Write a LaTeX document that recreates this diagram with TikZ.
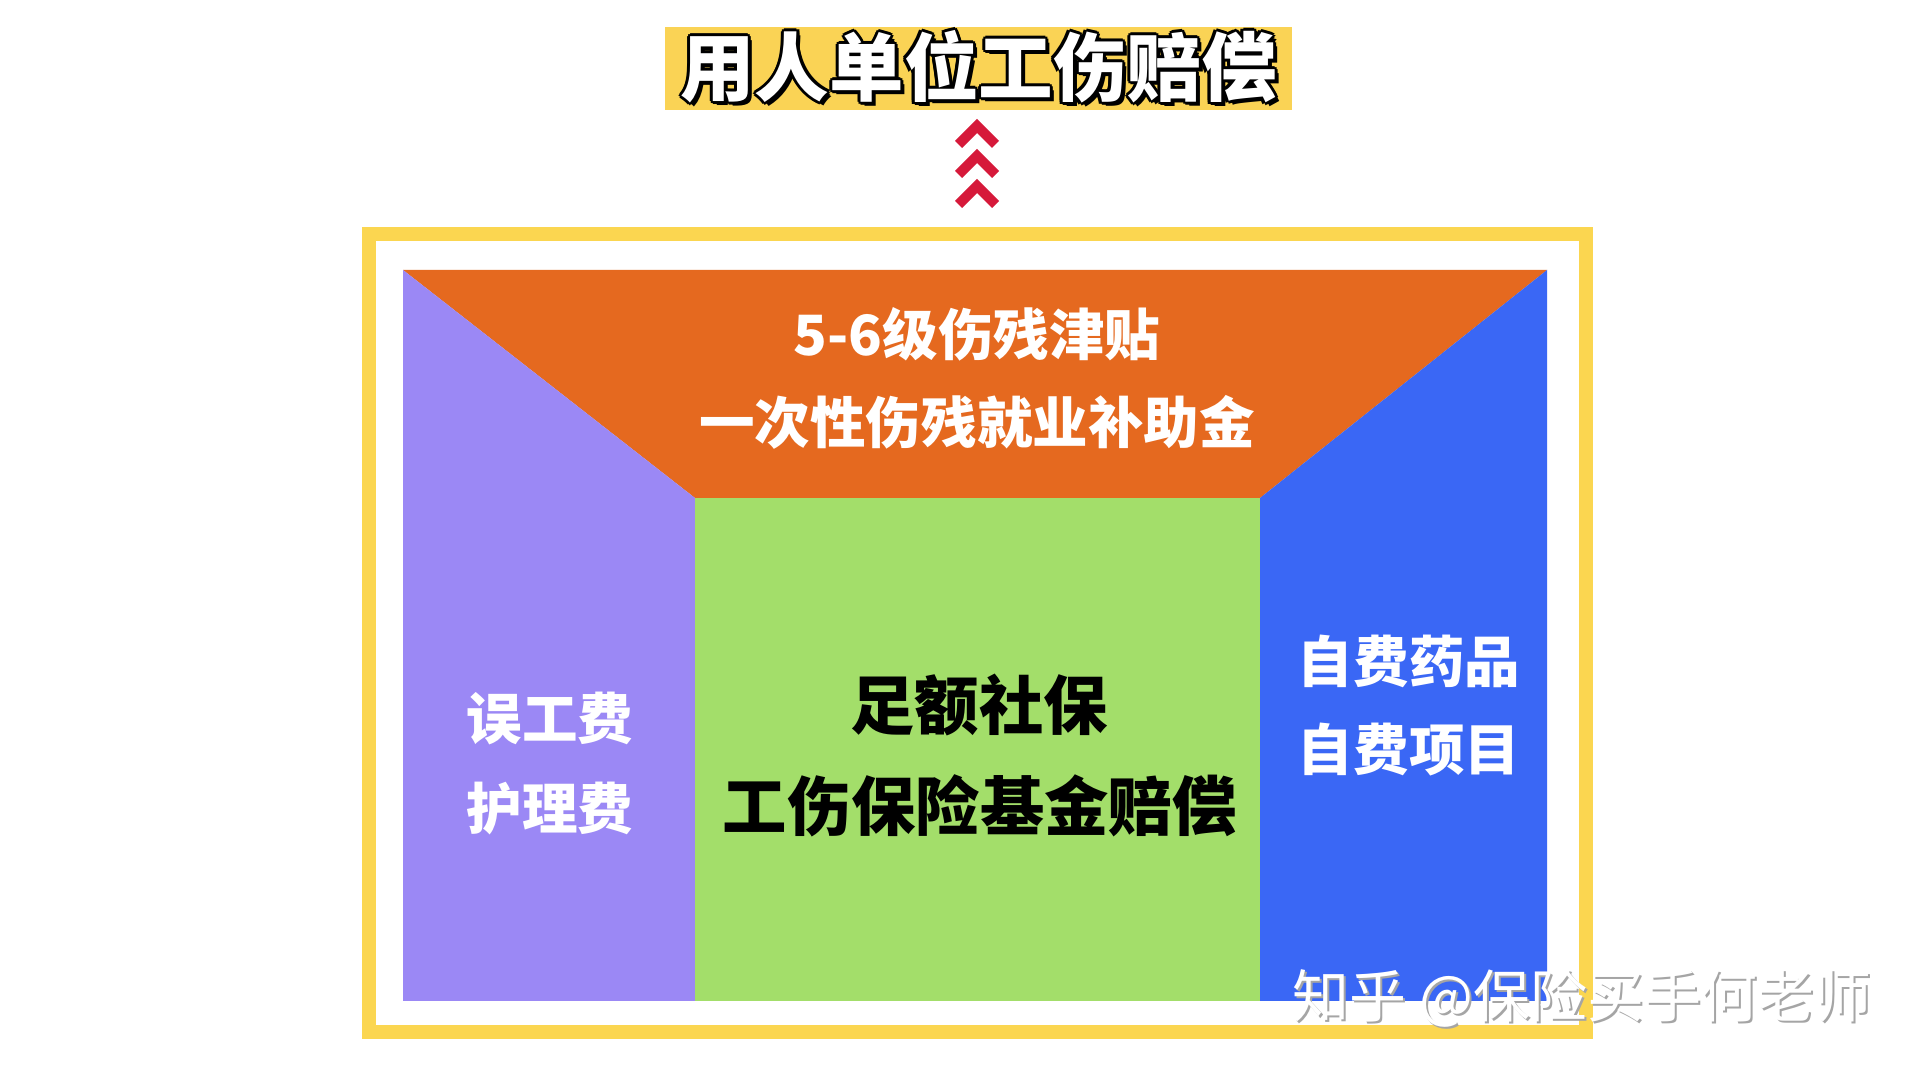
\documentclass[tikz,border=0pt]{standalone}
\usepackage{fontspec}
\setmainfont{Noto Sans CJK SC}

\definecolor{frameyellow}{RGB}{251,214,80}
\definecolor{titleyellow}{RGB}{250,211,85}
\definecolor{arrowred}{RGB}{214,25,58}
\definecolor{topcolor}{RGB}{229,105,31}
\definecolor{leftcolor}{RGB}{155,136,245}
\definecolor{midcolor}{RGB}{163,222,106}
\definecolor{rightcolor}{RGB}{58,103,245}
\definecolor{markgray}{RGB}{165,165,165}

\tikzset{
  boxtext/.style={inner sep=0pt, font=\bfseries\fontsize{15.8}{18}\selectfont},
  whitetext/.style={boxtext, text=white},
  titletext/.style={inner sep=0pt, font=\bfseries\fontsize{21.2}{24}\selectfont},
  marktext/.style={inner sep=0pt, anchor=west, font=\fontsize{16.2}{18}\selectfont}
}

\begin{document}
\begin{tikzpicture}
            \useasboundingbox[fill=white] (0,0) rectangle (19.2,10.8);

            % title
            \fill[titleyellow] (6.65,9.70) rectangle (12.92,10.53);
            \foreach \dx/\dy [count=\i] in {0.03/0, -0.03/0, 0/0.03, 0/-0.03, 0.022/0.022, -0.022/0.022, 0.022/-0.022, -0.022/-0.022, 0.04/-0.04}
                \node[titletext, text=black] (titleline\i) at (9.785+\dx, 10.13+\dy){用人单位工伤赔偿};
            \node[titletext, text=white] (title) at (9.785, 10.13){用人单位工伤赔偿};

            % chevrons
            \foreach \y in {9.61, 9.31, 9.01}
                \fill[arrowred] (9.77,\y) -- ++(0.22,-0.22) -- ++(-0.07,-0.07) -- ++(-0.15,0.15)
                    -- ++(-0.15,-0.15) -- ++(-0.07,0.07) -- cycle;

            % frame
            \draw[frameyellow, line width=0.14cm] (3.69,0.475) rectangle (15.86,8.455);

            % four parts
            \fill[topcolor] (4.03,8.10) -- (15.47,8.10) -- (12.60,5.82) -- (6.95,5.82) -- cycle;
            \fill[leftcolor] (4.03,8.10) -- (6.95,5.82) -- (6.95,0.79) -- (4.03,0.79) -- cycle;
            \fill[rightcolor] (15.47,8.10) -- (12.60,5.82) -- (12.60,0.79) -- (15.47,0.79) -- cycle;
            \fill[midcolor] (6.95,0.79) rectangle (12.60,5.82);

            \node[whitetext] (allowance) at (9.77, 7.46){5-6级伤残津贴};
                \node[whitetext] (subsidy) at (9.77, 6.58){一次性伤残就业补助金};
            \node[boxtext, font=\bfseries\fontsize{18.3}{20}\selectfont] (socialins) at (9.79, 3.75){足额社保};
                \node[boxtext, font=\bfseries\fontsize{18.3}{20}\selectfont] (fund) at (9.80, 2.74){工伤保险基金赔偿};
            \node[whitetext] (lostwage) at (5.50, 3.62){误工费};
                \node[whitetext] (nursing) at (5.50, 2.71){护理费};
            \node[whitetext] (owndrugs) at (14.09, 4.19){自费药品};
                \node[whitetext] (ownitems) at (14.09, 3.30){自费项目};

            % watermark
            \node[marktext, text=markgray] (watermark) at (12.94, 0.80){知乎 @保险买手何老师};
            \node[marktext, text=white] (watermarklight) at (12.92, 0.82){知乎 @保险买手何老师};

      \end{tikzpicture}
\end{document}
